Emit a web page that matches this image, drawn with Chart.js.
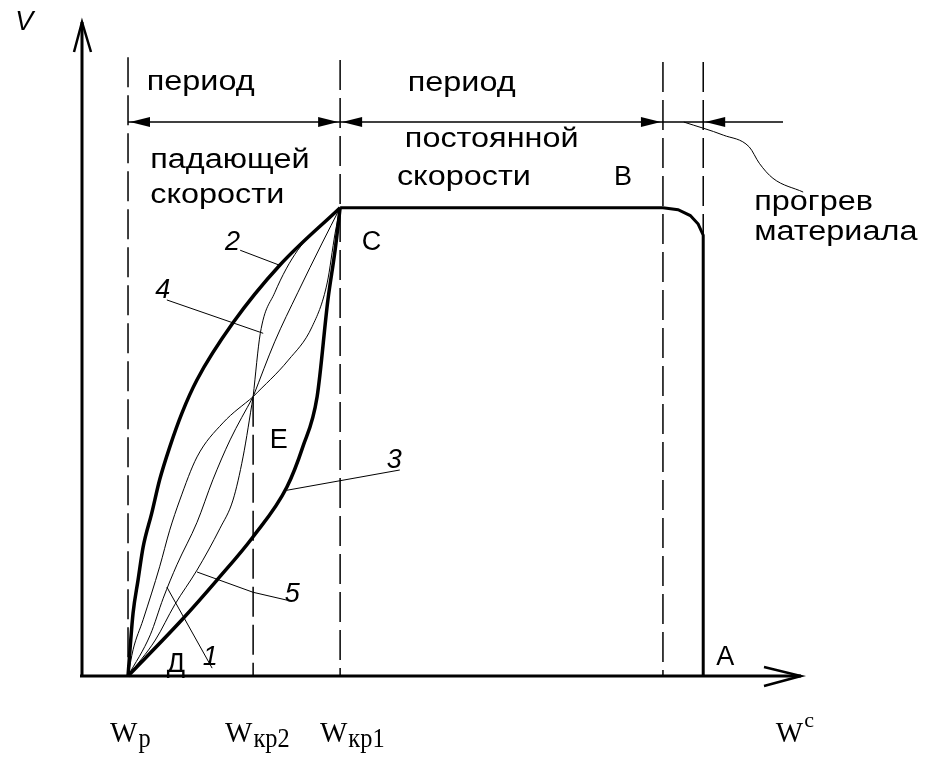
<!DOCTYPE html>
<html>
<head>
<meta charset="utf-8">
<script src="https://cdn.jsdelivr.net/npm/chart.js@4.4.1/dist/chart.umd.min.js"></script>
<style>
html, body { margin: 0; padding: 0; background: #fff; }
#wrap { width: 932px; height: 757px; }
</style>
</head>
<body>
<div id="wrap"><canvas id="dryChart"></canvas></div>
<script>
// drying rate V against moisture W, schematic units 0..100

// main curve C -> B -> A (constant rate, material heating)
var mainX = [35.9, 80.8, 82.9, 84.6, 85.7, 86.4, 86.4];
var mainY = [71.6, 71.6, 71.3, 70.4, 69.1, 67.4, 0];

// curve 2 (convex) and curve 3 (concave), Д -> C
var curve2X = [6.4, 6.7, 7.1, 7.8, 8.5, 9.7, 10.8, 12.2, 13.9, 16.0, 21.0, 27.5, 35.9];
var curve2Y = [0, 4.4, 9.6, 14.7, 19.7, 24.9, 30.0, 35.0, 40.2, 45.3, 54.0, 62.8, 71.6];
var curve3X = [6.4, 13.9, 18.8, 23.8, 28.5, 30.7, 32.7, 34.2, 35.2, 35.9];
var curve3Y = [0, 8.6, 14.7, 21.3, 28.9, 35.0, 42.7, 57.5, 65.1, 71.6];

// thin curves Д -> E
var lowLX = [6.4, 7.1, 8.5, 10.8, 12.2, 13.6, 16.0, 19.6, 23.8];
var lowLY = [0, 4.0, 8.6, 16.7, 22.3, 26.9, 33.5, 38.7, 42.7];
var lowMX = [6.4, 9.5, 11.3, 13.2, 16.0, 18.2, 20.6, 23.8];
var lowMY = [0, 6.3, 11.9, 17.0, 23.5, 30.0, 36.1, 42.7];
var lowRX = [6.4, 10.2, 12.9, 16.0, 19.2, 21.0, 22.4, 23.8];
var lowRY = [0, 5.5, 10.9, 16.2, 22.6, 26.9, 33.5, 42.7];

// thin curves E -> C
var upLX = [23.8, 24.8, 26.8, 30.0, 35.9];
var upLY = [42.7, 52.4, 58.6, 65.1, 71.6];
var upMX = [23.8, 26.8, 30.0, 33.4, 35.9];
var upMY = [42.7, 51.1, 58.6, 66.2, 71.6];
var upRX = [23.8, 28.7, 32.0, 34.1, 35.2, 35.9];
var upRY = [42.7, 48.3, 53.4, 60.1, 67.7, 71.6];

// dashed verticals: Wp, Wkr2, Wkr1, end of constant period, heating
var dashX = [6.4, 23.8, 35.9, 80.8, 86.4];
var dashTop = [94.6, 42.7, 94.2, 93.9, 93.9];

// dimension line with arrows
var dimY = 84.7;
var dimFrom = 6.4, dimTo = 97.5;
var arrowX = [6.4, 35.9, 35.9, 80.8, 86.4];
var arrowDir = [-1, 1, -1, 1, -1];

// leader lines to curve numbers
var lead2X = [22.0, 27.5], lead2Y = [65.1, 62.8];
var lead4X = [11.8, 25.2], lead4Y = [57.5, 52.4];
var lead3X = [44.2, 28.5], lead3Y = [31.5, 28.4];
var lead5X = [28.5, 23.8, 16.0], lead5Y = [11.6, 12.8, 15.9];
var lead1X = [18.1, 11.8], lead1Y = [1.2, 13.6];
var leadHeatX = [83.7, 89.2, 92.8, 94.2, 96.1, 100.3];
var leadHeatY = [84.7, 82.7, 80.9, 78.4, 76.1, 74.0];

// words, letters and numbers: text, x, y (left / baseline)
var words = [
    ['период', 9.0, 89.6], ['период', 45.3, 89.4],
    ['падающей', 9.5, 77.7], ['скорости', 9.5, 72.3],
    ['постоянной', 44.9, 80.9], ['скорости', 43.8, 75.1],
    ['прогрев', 93.5, 71.3], ['материала', 93.5, 66.7]
];
var letters = [
    ['В', 74.0, 75.1], ['С', 38.9, 65.1], ['Е', 26.1, 34.9],
    ['Д', 11.8, 0.6], ['А', 88.2, 1.7]
];
var numbers = [
    ['1', 16.8, 1.7], ['2', 19.9, 65.1], ['3', 42.4, 31.8],
    ['4', 10.2, 57.8], ['5', 28.2, 11.3], ['V', -9.3, 98.8]
];
var wLabelX = [3.9, 19.9, 33.1, 96.5];
var wLabelSub = ['p', 'кр2', 'кр1', 'c'];
var wLabelY = -10.1;

function pts(xs, ys) {
    return xs.map((x, i) => ({ x: x, y: ys[i] }));
}

function line(xs, ys, width, smooth, dash) {
    return {
        data: pts(xs, ys),
        showLine: true,
        borderColor: '#000',
        borderWidth: width,
        borderDash: dash || [],
        tension: smooth ? 0.4 : 0,
        cubicInterpolationMode: smooth ? 'monotone' : 'default',
        pointRadius: 0,
        clip: false
    };
}

var datasets = [
    line(mainX, mainY, 3, false),
    line(curve2X, curve2Y, 3.5, true),
    line(curve3X, curve3Y, 3.5, true),
    line(lowLX, lowLY, 1, true),
    line(lowMX, lowMY, 1, true),
    line(lowRX, lowRY, 1, true),
    line(upLX, upLY, 1, true),
    line(upMX, upMY, 1, true),
    line(upRX, upRY, 1, true),
    line([dimFrom, dimTo], [dimY, dimY], 1.5, false),
    line(lead2X, lead2Y, 1, false),
    line(lead4X, lead4Y, 1, false),
    line(lead3X, lead3Y, 1, false),
    line(lead5X, lead5Y, 1, false),
    line(lead1X, lead1Y, 1, false),
    line(leadHeatX, leadHeatY, 1, true)
];
dashX.forEach(function (x, i) {
    datasets.push(line([x, x], [dashTop[i], 0], 1.5, false, [30, 8]));
});

// axes, arrows and all text
var decor = {
    id: 'decor',
    afterDatasetsDraw: function (chart) {
        var ctx = chart.ctx;
        var px = v => chart.scales.x.getPixelForValue(v);
        var py = v => chart.scales.y.getPixelForValue(v);
        ctx.save();
        ctx.strokeStyle = '#000';
        ctx.fillStyle = '#000';

        // axes
        ctx.lineWidth = 3;
        ctx.beginPath();
        ctx.moveTo(px(0), py(0) + 1);
        ctx.lineTo(px(0), py(100));
        ctx.moveTo(px(0) - 2, py(0));
        ctx.lineTo(px(100), py(0));
        ctx.stroke();
        ctx.lineWidth = 2.5;
        ctx.beginPath();
        ctx.moveTo(px(0) - 8, py(100) + 30);
        ctx.lineTo(px(0), py(100));
        ctx.lineTo(px(0) + 9, py(100) + 30);
        ctx.moveTo(px(100) - 37, py(0) - 9);
        ctx.lineTo(px(100), py(0));
        ctx.lineTo(px(100) - 37, py(0) + 10);
        ctx.stroke();

        // dimension arrowheads
        arrowX.forEach(function (x, i) {
            var tx = px(x) + (arrowDir[i] > 0 ? -2 : 2), ty = py(dimY);
            var d = arrowDir[i];
            ctx.beginPath();
            ctx.moveTo(tx, ty);
            ctx.lineTo(tx - d * 20, ty - 5);
            ctx.lineTo(tx - d * 20, ty + 5);
            ctx.closePath();
            ctx.fill();
        });

        ctx.textAlign = 'left';
        ctx.textBaseline = 'alphabetic';
        function txt(t, x, y, font, sx) {
            ctx.save();
            ctx.translate(px(x), py(y));
            ctx.scale(sx, 1);
            ctx.font = font;
            ctx.fillText(t, 0, 0);
            ctx.restore();
        }
        words.forEach(w => txt(w[0], w[1], w[2], '27px "Liberation Sans", Arial, sans-serif', 1.2));
        letters.forEach(w => txt(w[0], w[1], w[2], '27px "Liberation Sans", Arial, sans-serif', 1));
        numbers.forEach(w => txt(w[0], w[1], w[2], 'italic 27px "Liberation Sans", Arial, sans-serif', 1));

        // W labels with sub / superscripts
        wLabelX.forEach(function (x, i) {
            ctx.font = '29px "Liberation Serif", "Times New Roman", serif';
            var x0 = px(x), y0 = py(wLabelY);
            ctx.fillText('W', x0, y0);
            var w = ctx.measureText('W').width;
            if (wLabelSub[i] === 'c') {
                ctx.font = '22px "Liberation Serif", "Times New Roman", serif';
                ctx.fillText('c', x0 + w + 1, y0 - 15);
            } else {
                ctx.save();
                ctx.translate(x0 + w + 1, y0 + 5);
                ctx.scale(0.87, 1);
                ctx.font = '28px "Liberation Serif", "Times New Roman", serif';
                ctx.fillText(wLabelSub[i], 0, 0);
                ctx.restore();
            }
        });
        ctx.restore();
    }
};

new Chart(document.getElementById('dryChart').getContext('2d'), {
    type: 'scatter',
    data: { datasets: datasets },
    options: {
        responsive: true,
        maintainAspectRatio: false,
        animation: false,
        events: [],
        layout: { padding: { left: 82, right: 131, top: 22, bottom: 81 } },
        plugins: { legend: { display: false }, tooltip: { enabled: false } },
        scales: {
            x: { type: 'linear', min: 0, max: 100, display: false },
            y: { type: 'linear', min: 0, max: 100, display: false }
        }
    },
    plugins: [decor]
});
</script>
</body>
</html>
